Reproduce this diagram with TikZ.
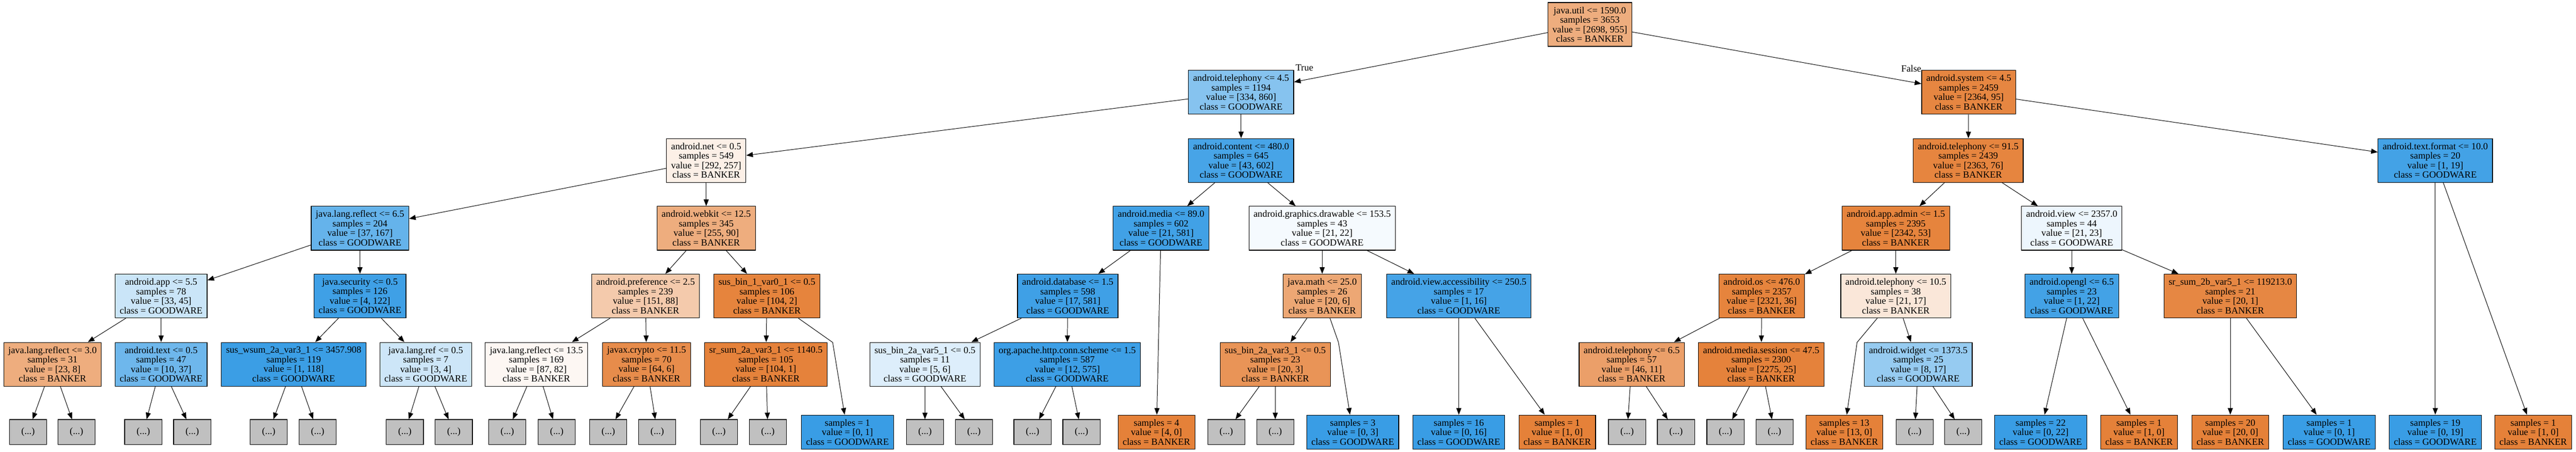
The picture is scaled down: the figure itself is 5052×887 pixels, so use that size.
\documentclass[tikz,border=0pt]{standalone}
\usepackage{fontspec}
\setmainfont{Liberation Serif}
\usetikzlibrary{arrows.meta}
\definecolor{bk}{RGB}{229,129,57}
\definecolor{gw}{RGB}{57,157,229}
\definecolor{trunc}{RGB}{192,192,192}
\newcommand{\nfont}{\fontsize{18.6}{18.7}\selectfont}
\tikzset{
  tn/.style={draw=black, line width=1.2pt, rectangle, align=center, inner xsep=9pt, inner ysep=0pt, minimum height=86pt, font=\nfont},
  lf/.style={tn, minimum height=67pt},
  gr/.style={draw=black, line width=1.2pt, rectangle, fill=trunc, minimum width=73pt, minimum height=49pt, inner sep=0pt, font=\nfont},
  edge/.style={line width=1pt, -{Triangle[length=13pt,width=10pt]}},
  elab/.style={font=\nfont, inner sep=0pt}
}
\begin{document}
\begin{tikzpicture}[x=1pt,y=-1pt]
\useasboundingbox (0,0) rectangle (5052,887);
% Level 0
\node[tn, fill=bk!65] (root) at (3118,48) {java.util <= 1590.0\\samples = 3653\\value = [2698, 955]\\class = BANKER};
% Level 1
\node[tn, fill=gw!61] (tel45) at (2434,181) {android.telephony <= 4.5\\samples = 1194\\value = [334, 860]\\class = GOODWARE};
\node[tn, fill=bk!96] (sys) at (3861,181) {android.system <= 4.5\\samples = 2459\\value = [2364, 95]\\class = BANKER};
% Level 2
\node[tn, fill=bk!12] (net) at (1385,315) {android.net <= 0.5\\samples = 549\\value = [292, 257]\\class = BANKER};
\node[tn, fill=gw!93] (content) at (2434,315) {android.content <= 480.0\\samples = 645\\value = [43, 602]\\class = GOODWARE};
\node[tn, fill=bk!97] (tel915) at (3860,315) {android.telephony <= 91.5\\samples = 2439\\value = [2363, 76]\\class = BANKER};
\node[tn, fill=gw!95] (txtfmt) at (4776,315) {android.text.format <= 10.0\\samples = 20\\value = [1, 19]\\class = GOODWARE};
% Level 3
\node[tn, fill=gw!78] (jlr65) at (706,448) {java.lang.reflect <= 6.5\\samples = 204\\value = [37, 167]\\class = GOODWARE};
\node[tn, fill=bk!65] (webkit) at (1385,448) {android.webkit <= 12.5\\samples = 345\\value = [255, 90]\\class = BANKER};
\node[tn, fill=gw!96] (media) at (2277,448) {android.media <= 89.0\\samples = 602\\value = [21, 581]\\class = GOODWARE};
\node[tn, fill=gw!5] (graphics) at (2593,448) {android.graphics.drawable <= 153.5\\samples = 43\\value = [21, 22]\\class = GOODWARE};
\node[tn, fill=bk!98] (admin) at (3718,448) {android.app.admin <= 1.5\\samples = 2395\\value = [2342, 53]\\class = BANKER};
\node[tn, fill=gw!9] (view) at (4063,448) {android.view <= 2357.0\\samples = 44\\value = [21, 23]\\class = GOODWARE};
% Level 4
\node[tn, fill=gw!27] (app) at (316,581) {android.app <= 5.5\\samples = 78\\value = [33, 45]\\class = GOODWARE};
\node[tn, fill=gw!97] (jsec) at (706,581) {java.security <= 0.5\\samples = 126\\value = [4, 122]\\class = GOODWARE};
\node[tn, fill=bk!42] (pref) at (1266,581) {android.preference <= 2.5\\samples = 239\\value = [151, 88]\\class = BANKER};
\node[tn, fill=bk!98] (sb1) at (1504,581) {sus\_bin\_1\_var0\_1 <= 0.5\\samples = 106\\value = [104, 2]\\class = BANKER};
\node[tn, fill=gw!97] (db) at (2094,581) {android.database <= 1.5\\samples = 598\\value = [17, 581]\\class = GOODWARE};
\node[tn, fill=bk!70] (jmath) at (2593,581) {java.math <= 25.0\\samples = 26\\value = [20, 6]\\class = BANKER};
\node[tn, fill=gw!94] (vacc) at (2861,581) {android.view.accessibility <= 250.5\\samples = 17\\value = [1, 16]\\class = GOODWARE};
\node[tn, fill=bk!98] (aos) at (3455,581) {android.os <= 476.0\\samples = 2357\\value = [2321, 36]\\class = BANKER};
\node[tn, fill=bk!19] (tel105) at (3718,581) {android.telephony <= 10.5\\samples = 38\\value = [21, 17]\\class = BANKER};
\node[tn, fill=gw!95] (opengl) at (4063,581) {android.opengl <= 6.5\\samples = 23\\value = [1, 22]\\class = GOODWARE};
\node[tn, fill=bk!95] (srb) at (4374,581) {sr\_sum\_2b\_var5\_1 <= 119213.0\\samples = 21\\value = [20, 1]\\class = BANKER};
% Level 5
\node[tn, fill=bk!65] (jlr30) at (103,715) {java.lang.reflect <= 3.0\\samples = 31\\value = [23, 8]\\class = BANKER};
\node[tn, fill=gw!73] (atext) at (316,715) {android.text <= 0.5\\samples = 47\\value = [10, 37]\\class = GOODWARE};
\node[tn, fill=gw!99] (wsum) at (576,715) {sus\_wsum\_2a\_var3\_1 <= 3457.908\\samples = 119\\value = [1, 118]\\class = GOODWARE};
\node[tn, fill=gw!25] (jlref) at (835,715) {java.lang.ref <= 0.5\\samples = 7\\value = [3, 4]\\class = GOODWARE};
\node[tn, fill=bk!6] (jlr135) at (1052,715) {java.lang.reflect <= 13.5\\samples = 169\\value = [87, 82]\\class = BANKER};
\node[tn, fill=bk!91] (crypto) at (1268,715) {javax.crypto <= 11.5\\samples = 70\\value = [64, 6]\\class = BANKER};
\node[tn, fill=bk!99] (sra) at (1502,715) {sr\_sum\_2a\_var3\_1 <= 1140.5\\samples = 105\\value = [104, 1]\\class = BANKER};
\node[tn, fill=gw!17] (sb5) at (1814,715) {sus\_bin\_2a\_var5\_1 <= 0.5\\samples = 11\\value = [5, 6]\\class = GOODWARE};
\node[tn, fill=gw!98] (apache) at (2093,715) {org.apache.http.conn.scheme <= 1.5\\samples = 587\\value = [12, 575]\\class = GOODWARE};
\node[tn, fill=bk!85] (sb3) at (2501,715) {sus\_bin\_2a\_var3\_1 <= 0.5\\samples = 23\\value = [20, 3]\\class = BANKER};
\node[tn, fill=bk!76] (tel65) at (3200,715) {android.telephony <= 6.5\\samples = 57\\value = [46, 11]\\class = BANKER};
\node[tn, fill=bk!99] (msess) at (3454,715) {android.media.session <= 47.5\\samples = 2300\\value = [2275, 25]\\class = BANKER};
\node[tn, fill=gw!53] (widget) at (3762,715) {android.widget <= 1373.5\\samples = 25\\value = [8, 17]\\class = GOODWARE};
% Level 6 (leaves)
\node[gr] (g1) at (55,848) {(...)};
\node[gr] (g2) at (150,848) {(...)};
\node[gr] (g3) at (281,848) {(...)};
\node[gr] (g4) at (377,848) {(...)};
\node[gr] (g5) at (527,848) {(...)};
\node[gr] (g6) at (623,848) {(...)};
\node[gr] (g7) at (794,848) {(...)};
\node[gr] (g8) at (890,848) {(...)};
\node[gr] (g9) at (995,848) {(...)};
\node[gr] (g10) at (1092,848) {(...)};
\node[gr] (g11) at (1193,848) {(...)};
\node[gr] (g12) at (1289,848) {(...)};
\node[gr] (g13) at (1410,848) {(...)};
\node[gr] (g14) at (1506,848) {(...)};
\node[lf, fill=gw] (lfA) at (1662,848) {samples = 1\\value = [0, 1]\\class = GOODWARE};
\node[gr] (g15) at (1814,848) {(...)};
\node[gr] (g16) at (1910,848) {(...)};
\node[gr] (g17) at (2025,848) {(...)};
\node[gr] (g18) at (2121,848) {(...)};
\node[lf, fill=bk] (lfB) at (2268,848) {samples = 4\\value = [4, 0]\\class = BANKER};
\node[gr] (g19) at (2405,848) {(...)};
\node[gr] (g20) at (2501,848) {(...)};
\node[lf, fill=gw] (lfC) at (2653,848) {samples = 3\\value = [0, 3]\\class = GOODWARE};
\node[lf, fill=gw] (lfD) at (2861,848) {samples = 16\\value = [0, 16]\\class = GOODWARE};
\node[lf, fill=bk] (lfE) at (3054,848) {samples = 1\\value = [1, 0]\\class = BANKER};
\node[gr] (g21) at (3191,848) {(...)};
\node[gr] (g22) at (3287,848) {(...)};
\node[gr] (g23) at (3384,848) {(...)};
\node[gr] (g24) at (3480,848) {(...)};
\node[lf, fill=bk] (lfF) at (3617,848) {samples = 13\\value = [13, 0]\\class = BANKER};
\node[gr] (g25) at (3755,848) {(...)};
\node[gr] (g26) at (3850,848) {(...)};
\node[lf, fill=gw] (lfG) at (4002,848) {samples = 22\\value = [0, 22]\\class = GOODWARE};
\node[lf, fill=bk] (lfH) at (4195,848) {samples = 1\\value = [1, 0]\\class = BANKER};
\node[lf, fill=bk] (lfI) at (4374,848) {samples = 20\\value = [20, 0]\\class = BANKER};
\node[lf, fill=gw] (lfJ) at (4568,848) {samples = 1\\value = [0, 1]\\class = GOODWARE};
\node[lf, fill=gw] (lfK) at (4776,848) {samples = 19\\value = [0, 19]\\class = GOODWARE};
\node[lf, fill=bk] (lfL) at (4968,848) {samples = 1\\value = [1, 0]\\class = BANKER};
% edge labels
\node[elab, anchor=base west] (tlab) at ([xshift=3pt,yshift=-2pt]tel45.north east) {True};
\node[elab, anchor=base east] (flab) at ([yshift=-4pt]sys.north west) {False};
% bend points
\coordinate (b1) at (1633,672);
\coordinate (b2) at (2625,672);
\coordinate (b3) at (3642,672);
% edges
\draw[edge] (root) -- (tel45);
\draw[edge] (root) -- (sys);
\draw[edge] (tel45) -- (net);
\draw[edge] (tel45) -- (content);
\draw[edge] (sys) -- (tel915);
\draw[edge] (sys) -- (txtfmt);
\draw[edge] (net) -- (jlr65);
\draw[edge] (net) -- (webkit);
\draw[edge] (content) -- (media);
\draw[edge] (content) -- (graphics);
\draw[edge] (tel915) -- (admin);
\draw[edge] (tel915) -- (view);
\draw[edge] (txtfmt) -- (lfK);
\draw[edge] (txtfmt) -- (lfL);
\draw[edge] (jlr65) -- (app);
\draw[edge] (jlr65) -- (jsec);
\draw[edge] (webkit) -- (pref);
\draw[edge] (webkit) -- (sb1);
\draw[edge] (media) -- (db);
\draw[edge] (media) -- (lfB);
\draw[edge] (graphics) -- (jmath);
\draw[edge] (graphics) -- (vacc);
\draw[edge] (admin) -- (aos);
\draw[edge] (admin) -- (tel105);
\draw[edge] (view) -- (opengl);
\draw[edge] (view) -- (srb);
\draw[edge] (app) -- (jlr30);
\draw[edge] (app) -- (atext);
\draw[edge] (jsec) -- (wsum);
\draw[edge] (jsec) -- (jlref);
\draw[edge] (pref) -- (jlr135);
\draw[edge] (pref) -- (crypto);
\draw[edge] (sb1) -- (sra);
\draw[edge] (sb1) -- (b1) -- (lfA);
\draw[edge] (db) -- (sb5);
\draw[edge] (db) -- (apache);
\draw[edge] (jmath) -- (sb3);
\draw[edge] (jmath) -- (b2) -- (lfC);
\draw[edge] (vacc) -- (lfD);
\draw[edge] (vacc) -- (lfE);
\draw[edge] (aos) -- (tel65);
\draw[edge] (aos) -- (msess);
\draw[edge] (tel105) -- (b3) -- (lfF);
\draw[edge] (tel105) -- (widget);
\draw[edge] (opengl) -- (lfG);
\draw[edge] (opengl) -- (lfH);
\draw[edge] (srb) -- (lfI);
\draw[edge] (srb) -- (lfJ);
\draw[edge] (jlr30) -- (g1);
\draw[edge] (jlr30) -- (g2);
\draw[edge] (atext) -- (g3);
\draw[edge] (atext) -- (g4);
\draw[edge] (wsum) -- (g5);
\draw[edge] (wsum) -- (g6);
\draw[edge] (jlref) -- (g7);
\draw[edge] (jlref) -- (g8);
\draw[edge] (jlr135) -- (g9);
\draw[edge] (jlr135) -- (g10);
\draw[edge] (crypto) -- (g11);
\draw[edge] (crypto) -- (g12);
\draw[edge] (sra) -- (g13);
\draw[edge] (sra) -- (g14);
\draw[edge] (sb5) -- (g15);
\draw[edge] (sb5) -- (g16);
\draw[edge] (apache) -- (g17);
\draw[edge] (apache) -- (g18);
\draw[edge] (sb3) -- (g19);
\draw[edge] (sb3) -- (g20);
\draw[edge] (tel65) -- (g21);
\draw[edge] (tel65) -- (g22);
\draw[edge] (msess) -- (g23);
\draw[edge] (msess) -- (g24);
\draw[edge] (widget) -- (g25);
\draw[edge] (widget) -- (g26);
\end{tikzpicture}
\end{document}
